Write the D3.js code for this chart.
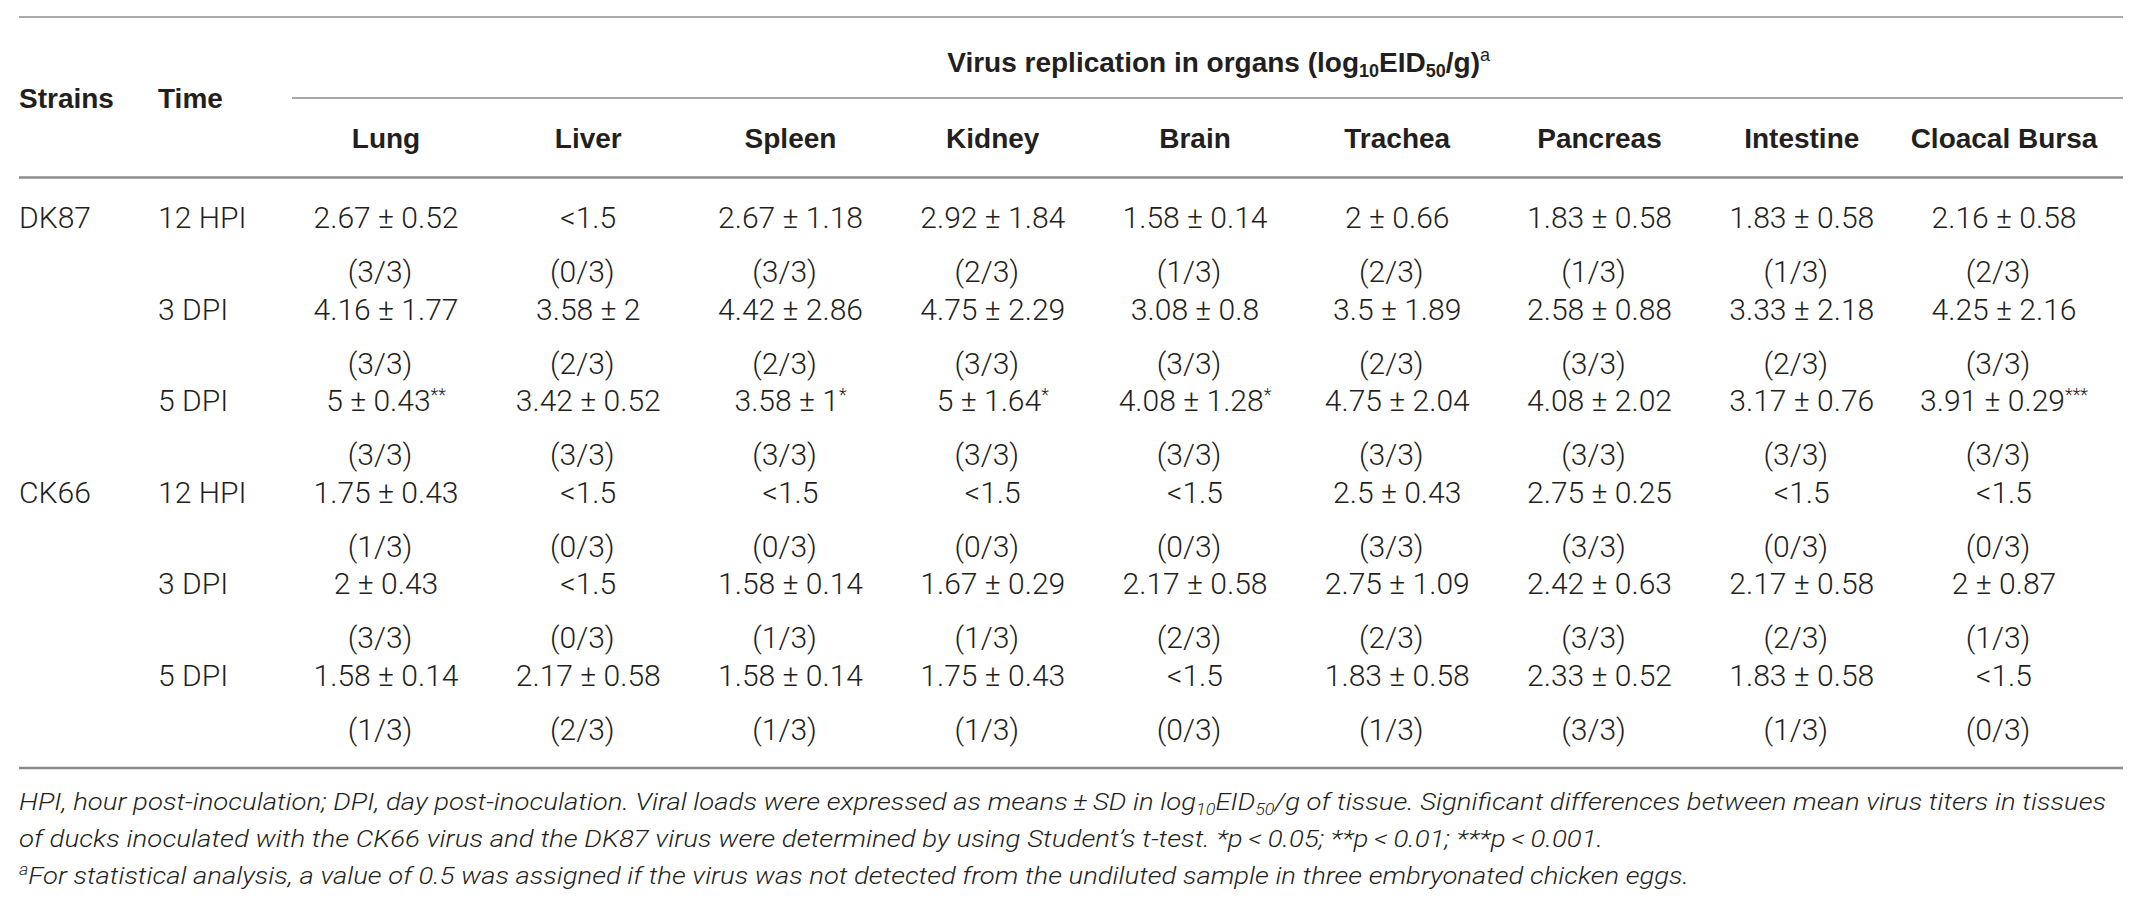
<!DOCTYPE html>
<html>
<head>
<meta charset="utf-8">
<script src="https://cdn.jsdelivr.net/npm/d3@7"></script>
<style>
  html, body { margin: 0; padding: 0; background: #fff; }
  svg { display: block; }
</style>
</head>
<body>
<div id="chart"></div>
<script>
// table contents
const organs = ['Lung', 'Liver', 'Spleen', 'Kidney', 'Brain', 'Trachea', 'Pancreas', 'Intestine', 'Cloacal Bursa'];
const strains = ['DK87', 'CK66'];
const times = ['12 HPI', '3 DPI', '5 DPI'];

// null = below detection (<1.5)
const dk87Means = [
  [2.67, null, 2.67, 2.92, 1.58, 2, 1.83, 1.83, 2.16],
  [4.16, 3.58, 4.42, 4.75, 3.08, 3.5, 2.58, 3.33, 4.25],
  [5, 3.42, 3.58, 5, 4.08, 4.75, 4.08, 3.17, 3.91]
];
const dk87Sds = [
  [0.52, null, 1.18, 1.84, 0.14, 0.66, 0.58, 0.58, 0.58],
  [1.77, 2, 2.86, 2.29, 0.8, 1.89, 0.88, 2.18, 2.16],
  [0.43, 0.52, 1, 1.64, 1.28, 2.04, 2.02, 0.76, 0.29]
];
const dk87Positive = [
  [3, 0, 3, 2, 1, 2, 1, 1, 2],
  [3, 2, 2, 3, 3, 2, 3, 2, 3],
  [3, 3, 3, 3, 3, 3, 3, 3, 3]
];
const dk87Signif = [
  ['', '', '', '', '', '', '', '', ''],
  ['', '', '', '', '', '', '', '', ''],
  ['**', '', '*', '*', '*', '', '', '', '***']
];
const ck66Means = [
  [1.75, null, null, null, null, 2.5, 2.75, null, null],
  [2, null, 1.58, 1.67, 2.17, 2.75, 2.42, 2.17, 2],
  [1.58, 2.17, 1.58, 1.75, null, 1.83, 2.33, 1.83, null]
];
const ck66Sds = [
  [0.43, null, null, null, null, 0.43, 0.25, null, null],
  [0.43, null, 0.14, 0.29, 0.58, 1.09, 0.63, 0.58, 0.87],
  [0.14, 0.58, 0.14, 0.43, null, 0.58, 0.52, 0.58, null]
];
const ck66Positive = [
  [1, 0, 0, 0, 0, 3, 3, 0, 0],
  [3, 0, 1, 1, 2, 2, 3, 2, 1],
  [1, 2, 1, 1, 0, 1, 3, 1, 0]
];
const birdsPerGroup = 3;
const detectionLimit = 1.5;

const width = 2139, height = 911;
const dataFont = 'Roboto, "Liberation Sans", sans-serif';
const headFont = '"Liberation Sans", Arial, sans-serif';
const ink = '#231f20';
const rule = '#8c8c8c';

// flatten into rows
const rows = [];
strains.forEach((s, si) => {
  const means = si === 0 ? dk87Means : ck66Means;
  const sds = si === 0 ? dk87Sds : ck66Sds;
  const pos = si === 0 ? dk87Positive : ck66Positive;
  times.forEach((t, ti) => {
    rows.push({
      strain: ti === 0 ? s : '',
      time: t,
      cells: organs.map((o, oi) => ({
        organ: o,
        mean: means[ti][oi],
        sd: sds[ti][oi],
        pos: pos[ti][oi],
        sig: si === 0 ? dk87Signif[ti][oi] : ''
      }))
    });
  });
});

const svg = d3.select('#chart').append('svg')
  .attr('width', width)
  .attr('height', height);

// pick the data font size so a sample cell is as wide as in the reference (~145px)
const probe = svg.append('text')
  .attr('font-family', dataFont).attr('font-weight', 300).attr('font-size', 100)
  .text('2.67 \u00b1 0.52');
const dataSize = Math.max(26, Math.min(31, 100 * 145 / probe.node().getComputedTextLength()));
probe.remove();

const x = d3.scalePoint()
  .domain(organs)
  .range([386, 2004]);

const y = d3.scaleLinear()
  .domain([0, rows.length - 1])
  .range([228, 686]);

const left = 19, right = 2123;

// rules
svg.append('g').selectAll('line')
  .data([
    { x1: left, x2: right, y: 17, w: 1.6 },
    { x1: 292, x2: right, y: 98, w: 1.6 },
    { x1: left, x2: right, y: 177.5, w: 2.4 },
    { x1: left, x2: right, y: 768, w: 2.4 }
  ])
  .join('line')
    .attr('x1', d => d.x1)
    .attr('x2', d => d.x2)
    .attr('y1', d => d.y)
    .attr('y2', d => d.y)
    .attr('stroke', rule)
    .attr('stroke-width', d => d.w);

// header
const head = svg.append('g')
  .attr('font-family', headFont)
  .attr('font-weight', 'bold')
  .attr('font-size', 28)
  .attr('fill', ink);

head.append('text').attr('x', 19).attr('y', 108).text('Strains');
head.append('text').attr('x', 158).attr('y', 108).text('Time');

const title = head.append('text')
  .attr('x', 1490)
  .attr('y', 72)
  .attr('text-anchor', 'end');
title.append('tspan').text('Virus replication in organs (log');
title.append('tspan').attr('font-size', 18).attr('dy', 5).text('10');
title.append('tspan').attr('dy', -5).text('EID');
title.append('tspan').attr('font-size', 18).attr('dy', 5).text('50');
title.append('tspan').attr('dy', -5).text('/g)');
title.append('tspan').attr('font-size', 18).attr('font-weight', 'normal').attr('dy', -11).text('a');

head.append('g').selectAll('text')
  .data(organs)
  .join('text')
    .attr('x', d => x(d))
    .attr('y', 148)
    .attr('text-anchor', 'middle')
    .text(d => d);

// body
const body = svg.append('g')
  .attr('font-family', dataFont)
  .attr('font-weight', 300)
  .attr('font-size', dataSize)
  .attr('fill', ink);

const row = body.selectAll('g.row')
  .data(rows)
  .join('g')
    .attr('class', 'row')
    .attr('transform', (d, i) => `translate(0,${y(i)})`);

row.append('text').attr('x', 19).text(d => d.strain);
row.append('text').attr('x', 158).text(d => d.time);

const cell = row.selectAll('g.cell')
  .data(d => d.cells)
  .join('g')
    .attr('class', 'cell')
    .attr('transform', d => `translate(${x(d.organ)},0)`);

const val = cell.append('text')
  .attr('text-anchor', 'middle');
val.append('tspan')
  .text(d => d.mean === null ? '<' + detectionLimit : `${d.mean} \u00b1 ${d.sd}`);
val.filter(d => d.sig).append('tspan')
  .attr('font-size', 18)
  .attr('dy', -10)
  .text(d => d.sig);

cell.append('text')
  .attr('text-anchor', 'middle')
  .attr('x', -6)
  .attr('y', 54)
  .text(d => `(${d.pos}/${birdsPerGroup})`);

// footnotes
const foot = svg.append('g')
  .attr('font-family', dataFont)
  .attr('font-weight', 300)
  .attr('font-style', 'italic')
  .attr('font-size', 24.5)
  .attr('fill', ink);

const f1 = foot.append('text')
  .attr('x', 19).attr('y', 810)
  .attr('textLength', 2106 - 19)
  .attr('lengthAdjust', 'spacingAndGlyphs');
f1.append('tspan').text('HPI, hour post-inoculation; DPI, day post-inoculation. Viral loads were expressed as means\u2009\u00b1\u2009SD in log');
f1.append('tspan').attr('font-size', 16).attr('dy', 5).text('10');
f1.append('tspan').attr('dy', -5).text('EID');
f1.append('tspan').attr('font-size', 16).attr('dy', 5).text('50');
f1.append('tspan').attr('dy', -5).text('/g of tissue. Significant differences between mean virus titers in tissues');

foot.append('text')
  .attr('x', 19).attr('y', 847)
  .attr('textLength', 1603 - 19)
  .attr('lengthAdjust', 'spacingAndGlyphs')
  .text('of ducks inoculated with the CK66 virus and the DK87 virus were determined by using Student\u2019s t-test. *p\u2009<\u20090.05; **p\u2009<\u20090.01; ***p\u2009<\u20090.001.');

const f3 = foot.append('text')
  .attr('x', 19).attr('y', 884)
  .attr('textLength', 1689 - 19)
  .attr('lengthAdjust', 'spacingAndGlyphs');
f3.append('tspan').attr('font-size', 16).attr('dy', -9).text('a');
f3.append('tspan').attr('dy', 9).text('For statistical analysis, a value of 0.5 was assigned if the virus was not detected from the undiluted sample in three embryonated chicken eggs.');
</script>
</body>
</html>
